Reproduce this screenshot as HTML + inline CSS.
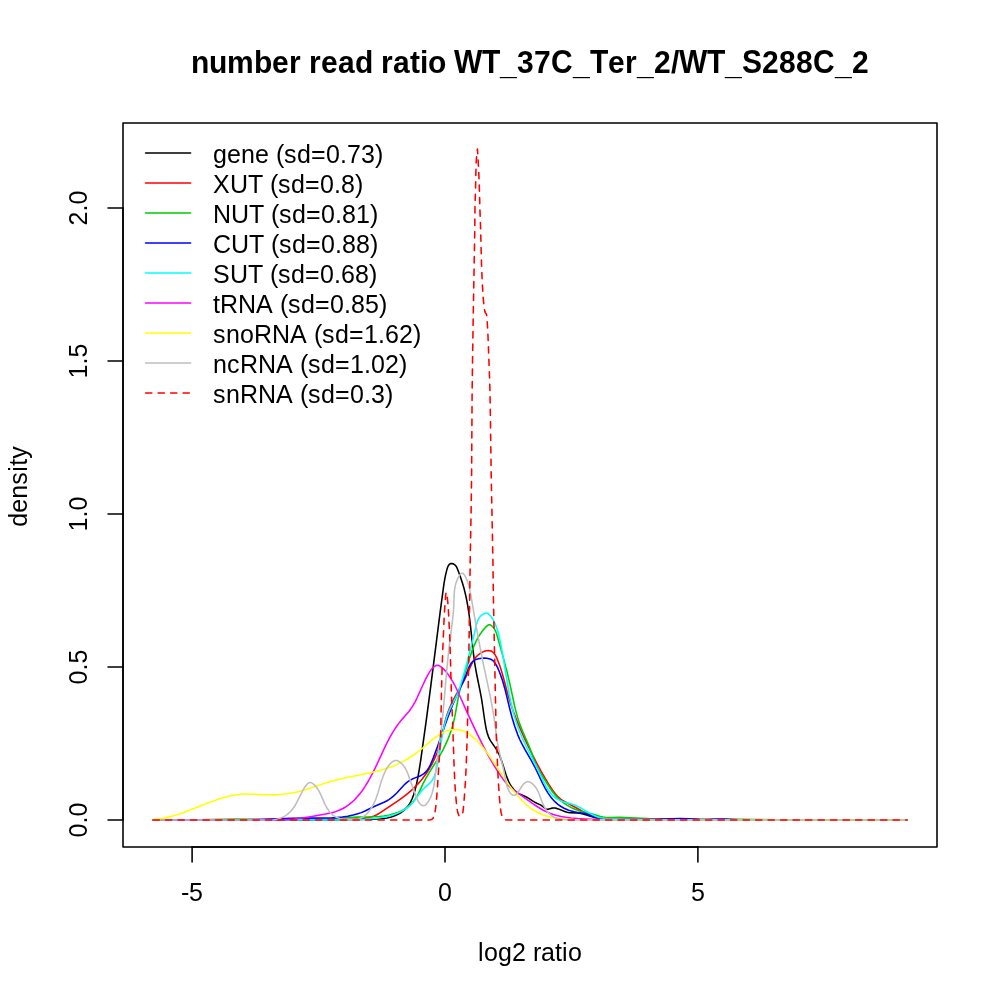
<!DOCTYPE html>
<html><head><meta charset="utf-8"><style>html,body{margin:0;padding:0;background:#fff;width:1000px;height:1000px;overflow:hidden}svg{display:block}</style></head>
<body>
<svg width="1000" height="1000" viewBox="0 0 1000 1000" style="will-change:transform">
<rect width="1000" height="1000" fill="#fff"/>
<defs><clipPath id="c"><rect x="123" y="123" width="814" height="724"/></clipPath></defs>
<g clip-path="url(#c)" fill="none" stroke-width="1.5625" stroke-linejoin="round" stroke-linecap="round">
<path d="M153 820 270.07 820 323.44 819.64 358.71 819.59 371.63 819.32 377.67 819.02 382.82 818.57 387.08 817.93 391.26 816.95 395.36 815.53 398.52 814.04 401.51 812.23 404.25 810.12 406.68 807.7 408.78 805.03 410.55 802.11 412.03 799.01 413.55 794.95 415.05 789.95 416.52 784.08 417.92 777.34 419.25 769.73 420.8 759.55 426.17 721.22 430.54 687.89 440.18 611.92 443.94 583.93 444.82 578.76 445.71 574.36 446.82 569.85 447.65 567.22 448.36 565.69 449.24 564.49 449.96 563.93 450.79 563.6 451.5 563.52 452.27 563.6 453.06 563.82 453.84 564.17 454.56 564.62 455.76 565.8 456.25 566.49 457.07 568.04 459.95 575.56 462.44 582.98 464.33 589.58 466.1 597.07 467.85 606.33 469.35 616.51 470.47 625.91 473.21 651.64 474.07 658.48 475.06 665.3 476.56 673.77 479.98 690.62 481.42 698.21 482.5 705 484.57 719.51 485.71 726.34 486.4 729.74 487.01 732.25 488.33 736.32 489.34 738.66 490.56 740.89 495.96 748.6 497.25 750.79 498.78 753.8 500.14 756.9 501.63 760.9 505.88 774.21 507.68 779.18 508.71 781.57 509.85 783.87 511.13 786.05 512.58 788.08 514.2 789.95 515.4 791.09 516.69 792.14 518.09 793.09 520.38 794.33 526.84 797.28 528.33 798.13 532.56 800.89 534.7 802.17 540.88 805.11 542.36 806.05 545.11 808.37 545.8 808.84 546.53 809.17 547.31 809.28 548.14 809.19 551.68 808.15 553.41 807.96 555.08 808.06 556.72 808.39 558.32 808.9 564.65 811.58 567.08 812.33 569.6 812.71 576.47 812.88 579.85 813.24 583.16 813.97 593.02 816.91 598.01 818.15 603.08 818.93 609.07 819.35 615.11 819.4 629.83 819.14 650.43 819.55 665.08 819.2 671.97 819.17 712.37 819.75 751.1 820 907.2 820" stroke="#000000"/>
<path d="M153 820 329.93 820 342.77 819.87 349.18 819.64 354.88 819.27 359.86 818.79 364.83 818.14 368.37 817.53 371.84 816.71 374.29 815.88 376.85 814.71 380.3 812.67 397.55 801.12 403.49 796.85 408.11 793.19 410.8 790.88 413.42 788.47 417.94 783.88 420.32 781.2 422.6 778.44 426.42 773.27 429.49 768.47 432.26 763.51 434.72 758.39 437.14 752.47 438.75 747.75 440.31 742.26 441.5 737.4 444.63 723.42 445.69 719.27 446.69 715.85 447.82 712.48 449.35 708.49 451.06 704.58 453.23 700.08 456.27 694.4 462.32 683.85 464.7 679.46 466.86 674.97 469.93 667.79 471.5 664.35 472.8 661.85 474.53 659.04 475.82 657.34 477.3 655.74 478.99 654.28 480.91 652.97 482.99 651.89 484.42 651.33 486.55 650.76 488.38 650.58 490.08 650.75 490.86 650.98 491.59 651.31 492.92 652.22 494.1 653.43 495.14 654.87 495.96 656.29 496.91 658.26 499.35 664.47 501.62 671.38 503.57 678.27 507.76 694.26 510.26 702.64 513.51 712.07 517.4 722.07 520.76 729.99 524.29 737.83 528.58 746.88 533.3 756.44 537.19 763.99 540.9 770.86 544.78 777.66 548.5 783.81 552.43 789.91 555.43 793.98 556.82 795.59 558.13 796.94 559.52 798.18 560.98 799.31 562.52 800.35 564.92 801.79 572.9 806 582.34 811.21 586.8 813.48 590.69 815.21 594 816.43 596.71 817.24 600.61 818.14 604.11 818.74 608.37 819.24 612.65 819.58 617.66 819.83 623.38 819.98 634.8 819.97 656.16 819.5 665.41 819.41 673.95 819.49 698.17 820 907.2 819.96" stroke="#FF0000"/>
<path d="M153 819.97 186.11 820 223.69 819.25 237.22 819.13 250.76 819.32 269.58 820 326.74 820 331.99 819.46 343.97 818.01 349.97 817.46 356.74 817.14 374.02 816.79 379.26 816.46 383.72 815.97 386.69 815.52 389.64 814.93 394.78 813.56 397.68 812.54 399.81 811.66 401.88 810.67 403.89 809.57 407.02 807.48 408.78 806.08 410.44 804.58 412.01 802.99 413.48 801.31 414.86 799.54 416.14 797.7 417.31 795.79 418.73 793.13 422.81 784.17 425.57 778.81 429.37 772.3 436.97 760.18 440.07 755.03 442.98 749.78 445.64 744.41 447.76 739.61 449.68 734.73 451.4 729.76 452.7 725.45 453.84 721.08 454.83 716.66 458.35 697.33 459.26 692.92 460.31 688.56 461.69 683.53 463.42 677.81 469.51 658.35 471.97 651.15 473.89 646.22 476.06 641.42 478.16 637.44 480.53 633.62 483.2 629.99 486.22 626.56 487.31 625.58 488.06 625.09 488.84 624.8 489.64 624.76 490.46 625 491.28 625.47 492.47 626.5 493.58 627.79 494.53 629.18 495.32 630.59 495.97 632.02 496.76 634.18 503.43 658.12 507.24 672.63 509.83 683.6 514.55 705.73 515.97 711.58 517.57 717.37 519.17 722.37 520.72 726.59 522.72 731.45 529 745.96 530.62 750.19 534.15 760.13 536.13 764.99 538.12 769.01 541.17 774.19 550.9 789.46 553.05 792.52 554.91 794.87 556.4 796.56 558.52 798.69 560.2 800.21 562.54 802.12 564.37 803.47 566.89 805.13 569.51 806.66 572.2 808.03 575.67 809.52 579.93 810.98 583.53 811.96 592.29 814.12 599.55 816.26 603.21 817.07 605.43 817.35 607.67 817.5 611.43 817.54 619.73 817.38 624.99 817.45 662.5 819.18 672.28 819.47 683.56 819.63 698.61 819.65 740.72 819.4 755.75 819.51 786.56 820 907.2 819.96" stroke="#00CD00"/>
<path d="M153.02 820 175.55 819.9 196.25 820 239.51 819.99 253.58 819.64 292.07 818.38 305.29 818.15 325.9 818.06 332.03 817.88 336.72 817.6 342.3 817.06 347.82 816.25 353.26 815.1 357.72 813.85 361.25 812.62 364.51 811.28 374.77 806.26 384.01 802.3 386.5 801.02 388.91 799.57 391.23 797.96 393.44 796.18 396.52 793.23 404.07 785.04 406.11 783.13 407.54 781.96 409.82 780.4 412.27 779.07 414.44 778.12 419.97 775.96 422.41 774.68 423.88 773.64 425.22 772.45 426.44 771.12 427.55 769.68 429.05 767.33 430.48 764.59 431.66 761.94 433.29 757.87 437.61 746.24 447.22 718.95 452.21 705.92 456.56 695.73 464.06 679.67 465.95 675.04 468.21 668.9 469.54 665.89 470.92 663.57 472.02 662.21 473.3 661.04 474.77 660.08 476.47 659.35 478.57 658.77 481.54 658.3 484.55 658.11 486.75 658.22 489.06 658.65 490.76 659.25 492.29 660.13 493.63 661.27 494.79 662.65 496.18 664.82 497.48 667.4 498.93 670.7 500.5 674.68 501.91 678.68 503.04 682.25 505.28 690.32 510.01 709.74 512.18 718 514.86 726.84 517.58 734.35 519.78 739.5 521.8 743.68 524.87 749.4 531.37 760.73 534.54 766.52 537.1 771.64 542.63 783.32 545.35 788.58 547.72 792.61 550.33 796.42 552.63 799.27 555.16 801.92 557.94 804.34 561 806.49 564.1 808.24 568.05 809.99 571.45 811.13 574.22 811.82 576.76 812.28 583.18 813.2 585.88 813.81 588.54 814.68 595.34 817.41 598.91 818.51 602.59 819.12 606.34 819.36 619.87 819.18 634.2 819.58 641.7 819.62 650.15 819.45 670.84 818.71 680.24 818.58 688.68 818.77 698.99 819.4 703.68 819.58 707.43 819.55 715.43 819.1 720.13 819.03 724.82 819.14 738.89 819.73 752.99 819.9 776.5 820 907.2 820" stroke="#0000FF"/>
<path d="M152.99 819.97 281.96 820 303.55 819.81 329.1 820 341.49 820 356.15 819.67 364.61 819.23 373.03 818.56 379.88 817.78 385.93 816.77 391.17 815.5 395.6 814.03 399.94 812.14 404.09 809.86 406.69 808.12 408.54 806.7 410.85 804.66 412.45 803.01 414.84 800.08 419.22 793.89 421.59 790.9 423.74 788.67 428.98 783.93 431.1 781.7 432.03 780.5 432.85 779.23 434.2 776.52 435.01 774.36 435.68 772.13 437.48 764.54 438.9 756.88 441.53 739.99 442.87 732.38 444.51 724.89 446.38 718.26 447.9 713.93 449.36 710.37 451 706.87 455.56 697.83 457.23 694.32 458.72 690.76 460.26 686.4 463.29 676.05 467.55 660.44 471.97 643.25 476.53 624.43 477.15 622.19 477.66 620.74 478.29 619.33 479.08 617.98 480.05 616.69 481.24 615.49 482.61 614.45 484.06 613.65 485.52 613.2 486.22 613.14 487.12 613.24 487.95 613.55 489.29 614.49 490.81 616.21 492.16 618.2 493.75 620.96 495.44 624.51 496.84 628.17 498 631.9 499.68 638.72 501.77 649.3 503.58 659.82 507.85 686.48 509.37 694.9 510.75 701.75 512.49 709.29 514.49 716.74 516.56 723.33 518.9 729.8 522.12 737.56 525.96 745.91 537.72 769.56 543.54 781.7 546.08 786.55 547.66 789.18 548.92 791.06 550.27 792.85 551.72 794.53 553.28 796.09 554.95 797.51 556.76 798.79 558.71 799.9 560.82 800.85 563.04 801.65 572.37 804.34 574.62 805.09 576.76 805.94 580.77 807.95 588.6 812.62 591.33 814.15 594.15 815.54 596.31 816.44 598.5 817.17 600.74 817.71 603.77 818.16 606.83 818.41 623.04 818.98 642.34 819.46 662.41 819.77 684.81 819.97 907.2 819.98" stroke="#00FFFF"/>
<path d="M152.97 819.9 161.24 820 198.77 820 226.2 819.89 246.36 820 278.45 820 285.73 819.69 293.88 819.04 301.98 818.07 311.89 816.52 325.58 814.07 331.04 812.88 335.47 811.63 339.71 810.06 342.93 808.51 346 806.71 348.91 804.67 351.68 802.42 354.31 799.98 356.81 797.36 359.77 793.88 362 790.94 364.64 787.12 368.55 780.75 372.53 773.37 376.19 765.89 385.86 745.14 389.16 738.68 392.26 733.17 395.63 727.81 398.78 723.37 401.63 719.8 408.93 711.41 410.61 709.18 412.65 706.08 414.94 702.08 416.99 698.03 423.24 684.22 425.75 678.95 428.15 674.36 430.12 671.13 431.91 668.77 433.57 667.11 434.98 666.09 435.7 665.73 436.43 665.48 437.15 665.36 437.87 665.37 438.59 665.51 440.01 666.1 441.39 667.04 443.39 668.85 445.88 671.59 448.16 674.47 450.25 677.48 452.65 681.39 455.27 686.25 457.68 691.23 468.63 715.59 474.77 728.85 479.14 737.88 483.67 746.82 489.3 757.28 494.37 766 499.31 773.77 501.92 777.57 504.11 780.53 506.43 783.36 508.28 785.37 510.23 787.25 512.28 789 515.9 791.72 532.42 803.45 537.8 807.01 543.34 810.22 548.25 812.59 550.76 813.6 553.33 814.49 556.82 815.5 561.28 816.5 565.8 817.27 571.3 817.95 577.73 818.53 585.07 819.01 592.4 819.33 600.63 819.53 612.5 819.6 647.2 819.44 657.27 819.6 669.2 820 907.2 820" stroke="#FF00FF"/>
<path d="M152.97 819.42 158.71 818.86 164.34 817.93 169.87 816.69 176.1 814.94 181.49 813.18 187.59 810.97 207.28 803.22 214.92 800.39 219.54 798.82 223.42 797.63 227.33 796.56 230.47 795.82 233.63 795.18 236.81 794.67 240 794.29 243.22 794.06 246.44 793.98 249.69 794.05 264.37 794.82 272.52 794.84 277.39 794.65 282.24 794.28 287.06 793.73 291.85 793 298.17 791.71 304.4 790.04 310.57 788.1 325.96 782.87 330.62 781.44 335.33 780.16 345.64 777.77 370.37 772.78 376.66 771.29 382.88 769.6 389.75 767.35 393.5 765.91 396.46 764.65 402.27 761.84 405.12 760.29 408.63 758.23 413.43 755.11 418.1 751.74 422.63 748.12 430.84 741.08 434.03 738.46 437.99 735.56 441.43 733.42 445.04 731.63 448.03 730.54 451.09 729.82 452.64 729.61 454.97 729.48 458.06 729.67 461.11 730.25 464.08 731.23 466.23 732.23 468.98 733.87 471.6 735.82 474.71 738.54 478.21 742.06 480.42 744.5 483.06 747.63 488.02 754.11 492.2 760.13 504.32 778.32 508.04 783.61 511.42 788.16 514.96 792.63 518.69 797 522.06 800.59 525.6 803.98 528.69 806.61 531.91 809.03 535.28 811.19 538.08 812.72 540.99 814.05 544.75 815.44 548.63 816.57 552.6 817.46 559.07 818.49 567.23 819.29 575.36 819.72 585.92 819.92 907.19 820" stroke="#FFFF00"/>
<path d="M152.99 819.97 270.2 820 273.93 819.73 277.61 819.06 279.42 818.55 281.21 817.88 282.96 817.08 284.66 816.15 286.3 815.1 287.85 813.96 289.31 812.72 291.29 810.71 293.56 807.82 295.52 804.71 297.28 801.43 301.55 792.78 302.99 790.15 304.59 787.53 306.39 784.98 307.71 783.56 308.4 783.02 309.12 782.63 309.85 782.43 310.6 782.44 311.36 782.66 312.89 783.56 315.04 785.57 316.87 787.81 318.43 790.17 319.77 792.63 320.97 795.17 324.79 803.92 327.1 808.23 328.71 810.66 329.89 812.17 331.81 814.22 333.21 815.41 335.5 816.88 337.15 817.62 339.8 818.41 342.61 818.91 347.49 819.43 351.44 819.6 355.3 819.4 358.07 818.92 359.83 818.39 361.5 817.69 363.09 816.82 365.31 815.22 366.69 813.98 368.62 811.9 369.8 810.38 371.44 807.96 372.44 806.27 373.81 803.65 375.03 800.97 376.11 798.28 377.94 792.89 380.82 783.08 382.22 778.67 383.85 774.31 385.42 770.86 386.82 768.32 387.9 766.66 389.12 765.03 390.5 763.46 392.01 762.09 392.8 761.51 394.43 760.71 395.27 760.51 396.11 760.47 396.95 760.6 397.78 760.86 398.6 761.25 400.19 762.3 401.65 763.59 402.96 765.01 404.13 766.52 405.65 768.95 406.95 771.53 408.07 774.19 411.49 783.97 416.98 798.67 418.14 801.22 419.2 802.92 420.48 804.34 421.22 804.91 422.01 805.36 422.82 805.65 423.61 805.74 424.37 805.6 425.07 805.26 425.73 804.76 426.95 803.42 428.54 801.09 429.89 798.65 431.04 796.12 431.99 793.5 432.78 790.82 433.43 788.08 434.11 784.35 434.76 779.6 436.48 764.3 440.44 736.26 442.3 720.38 443.65 706.31 446.47 673.32 447.9 658.21 449.15 646.87 451.94 625.19 453.09 614.9 453.73 606.56 454.14 594.64 454.53 590 454.97 587.18 455.64 584.31 456.23 582.36 457.22 579.73 458.49 577.04 459.79 574.92 460.98 573.62 461.78 573.19 462.57 573.21 463.34 573.66 464.44 574.97 465.45 576.78 466.65 579.42 467.66 582.03 468.59 584.9 469.58 588.64 470.67 594.15 476.34 627.31 480.14 647.82 483.47 664.58 489.79 694.12 492.15 706.12 493.99 717.3 497.04 739.85 497.8 744.51 498.69 749.12 499.93 754.61 503.32 768.28 504.1 771.98 505.64 780.45 506.76 785.1 508.03 788.71 509.29 791.33 510.3 792.97 510.87 793.69 511.47 794.32 512.11 794.81 512.78 795.15 513.5 795.3 514.26 795.24 515.04 794.98 515.81 794.56 516.54 794.01 517.21 793.37 518.44 791.85 521.72 786.5 522.9 784.82 524.23 783.39 524.97 782.8 525.75 782.32 526.56 781.97 527.39 781.78 528.24 781.74 529.09 781.89 529.93 782.18 531.57 783.13 532.35 783.73 533.78 785.08 535.04 786.51 536.62 788.81 537.52 790.42 538.7 792.94 542.05 801.83 543.63 805.41 545.03 808.01 546.07 809.66 547.79 811.98 549.05 813.39 550.39 814.65 551.82 815.76 553.34 816.71 555.76 817.84 557.45 818.43 560.1 819.09 562.86 819.52 565.7 819.78 570.55 819.93 626.57 820 907.21 819.99" stroke="#BEBEBE"/>
<path d="M153 820 428 820 429 819.95 430.5 819.72 432 819.3 432.5 818.97 433 818.35 433.5 817.47 434.5 815 435 812.73 436 805 436.9 794.89 437.8 782.2 440.3 741.79 440.7 733 441.5 690 441.95 672.94 442.75 650.04 444.03 620.3 444.5 611.7 445.35 598.79 445.77 594.13 446.2 592.3 446.6 593.16 447 595.42 447.8 602.2 448.27 608.29 449.6 633.79 450 643 451.4 694 452.6 722 454 763.2 454.93 784.18 455.4 791.7 456.36 802.69 456.84 807.06 457.32 810.42 457.8 812.6 458.75 815.25 459.23 816.09 459.7 816.4 460.17 816.32 460.63 816.07 461.1 815.66 461.57 815.11 462.5 813.6 462.98 811.46 463.45 807.36 464.4 796.5 465.4 782.07 465.9 772.7 466.35 761.83 467.4 730 469 645 470.3 555 471.17 507.79 471.6 475 472.1 395 472.55 359.62 473.4 305.52 474.7 235 475 205 475.5 190 475.8 175 476.2 162 476.6 155.89 477 152 477.5 149 478.8 173 479.3 186 480 212 480.5 225 481.5 264 482.35 284.35 483.2 298 484.05 306.55 484.47 309.62 484.9 311.6 485.32 312.6 486.18 313.85 486.6 315 487 318.43 487.8 332 488.3 343.61 489.6 379.15 490 393.4 490.4 416.77 491.2 475 492.9 560 493.4 597.5 495.82 716.47 496.3 735 496.75 747.86 498.13 777.94 499.4 797.53 500.2 805.82 501 812.12 501.4 814 501.88 815.46 502.84 817.64 503.32 818.35 504.26 819.09 505.63 819.75 507 820 907.2 820" stroke="#FF0000" stroke-dasharray="6.25 6.25"/>
</g>
<g stroke="#000" stroke-width="1.5625" fill="none" stroke-linecap="round">
<rect x="123" y="123" width="814" height="724" stroke-linejoin="round"/>
<path d="M192.10 847 L697.90 847"/>
<path d="M192.10 847 L192.10 862"/>
<path d="M445.00 847 L445.00 862"/>
<path d="M697.90 847 L697.90 862"/>
<path d="M123 820.00 L123 208.00"/>
<path d="M123 820.00 L108 820.00"/>
<path d="M123 667.00 L108 667.00"/>
<path d="M123 514.00 L108 514.00"/>
<path d="M123 361.00 L108 361.00"/>
<path d="M123 208.00 L108 208.00"/>
</g>
<g fill="#000">
<text transform="translate(191 72.8) scale(1 1.09)" x="263 291 360 399 488 516 551 622" y="0 0 0 0 0 0 0 0" font-family="Liberation Sans, sans-serif" font-size="30" font-weight="bold">WTCTWTSC</text><text transform="translate(191 72.8) scale(1 1.05)" x="326 343 463 571 588 605 661" y="0 0 0 0 0 0 0" font-family="Liberation Sans, sans-serif" font-size="30" font-weight="bold">3722882</text><text transform="translate(191 72.8) scale(1 1.04)" x="0 18 36 63 81 98 118 130 147 164 190 202 219 229 237 309 382 417 434 446 480 534 644" y="0 0 0 0 0 0 0 0 0 0 0 0 0 0 0 1.4 1.4 0 0 1.4 0 1.4 1.4" font-family="Liberation Sans, sans-serif" font-size="30" font-weight="bold">numberreadratio__er_/__</text>
<text transform="translate(181.1 900.8) scale(1 1)" x="8" y="0" font-family="Liberation Sans, sans-serif" font-size="25">5</text><text transform="translate(181.1 900.8) scale(1 1)" x="0" y="0" font-family="Liberation Sans, sans-serif" font-size="25">-</text>
<text transform="translate(438 900.8) scale(1 1)" x="0" y="0" font-family="Liberation Sans, sans-serif" font-size="25">0</text>
<text transform="translate(690.9 900.8) scale(1 1)" x="0" y="0" font-family="Liberation Sans, sans-serif" font-size="25">5</text>
<text transform="translate(86.8 820) rotate(-90) translate(-17.5 0) scale(1 1)" x="0 21" y="0 0" font-family="Liberation Sans, sans-serif" font-size="25">00</text><text transform="translate(86.8 820) rotate(-90) translate(-17.5 0) scale(1 1)" x="14" y="0" font-family="Liberation Sans, sans-serif" font-size="25">.</text>
<text transform="translate(86.8 667) rotate(-90) translate(-17.5 0) scale(1 1)" x="0 21" y="0 0" font-family="Liberation Sans, sans-serif" font-size="25">05</text><text transform="translate(86.8 667) rotate(-90) translate(-17.5 0) scale(1 1)" x="14" y="0" font-family="Liberation Sans, sans-serif" font-size="25">.</text>
<text transform="translate(86.8 514) rotate(-90) translate(-17.5 0) scale(1 1)" x="0 21" y="0 0" font-family="Liberation Sans, sans-serif" font-size="25">10</text><text transform="translate(86.8 514) rotate(-90) translate(-17.5 0) scale(1 1)" x="14" y="0" font-family="Liberation Sans, sans-serif" font-size="25">.</text>
<text transform="translate(86.8 361) rotate(-90) translate(-17.5 0) scale(1 1)" x="0 21" y="0 0" font-family="Liberation Sans, sans-serif" font-size="25">15</text><text transform="translate(86.8 361) rotate(-90) translate(-17.5 0) scale(1 1)" x="14" y="0" font-family="Liberation Sans, sans-serif" font-size="25">.</text>
<text transform="translate(86.8 208) rotate(-90) translate(-17.5 0) scale(1 1)" x="0 21" y="0 0" font-family="Liberation Sans, sans-serif" font-size="25">20</text><text transform="translate(86.8 208) rotate(-90) translate(-17.5 0) scale(1 1)" x="14" y="0" font-family="Liberation Sans, sans-serif" font-size="25">.</text>
<text transform="translate(478 960.8) scale(1 1)" x="34" y="0" font-family="Liberation Sans, sans-serif" font-size="25">2</text><text transform="translate(478 960.8) scale(1 1)" x="0 6 20 55 63 77 84 90" y="0 0 0 0 0 0 0 0" font-family="Liberation Sans, sans-serif" font-size="25">logratio</text>
<text transform="translate(26.7 486.3) rotate(-90) translate(-40.5 0) scale(1 1)" x="0 14 28 42 55 61 68" y="0 0 0 0 0 0 0" font-family="Liberation Sans, sans-serif" font-size="25">density</text>
</g>
<g fill="none" stroke-width="1.5625" stroke-linecap="round">
<path d="M145.6 153 L190.6 153" stroke="#000000"/>
<path d="M145.6 183 L190.6 183" stroke="#FF0000"/>
<path d="M145.6 213 L190.6 213" stroke="#00CD00"/>
<path d="M145.6 243 L190.6 243" stroke="#0000FF"/>
<path d="M145.6 273 L190.6 273" stroke="#00FFFF"/>
<path d="M145.6 303 L190.6 303" stroke="#FF00FF"/>
<path d="M145.6 333 L190.6 333" stroke="#FFFF00"/>
<path d="M145.6 363 L190.6 363" stroke="#BEBEBE"/>
<path d="M145.6 393 L190.6 393" stroke="#FF0000" stroke-dasharray="6.25 6.25"/>
</g>
<g fill="#000">
<text transform="translate(213 162.8) scale(1 1)" x="113 134 148" y="0 0 0" font-family="Liberation Sans, sans-serif" font-size="25">073</text><text transform="translate(213 162.8) scale(1 1)" x="0 14 28 42 63 71 84 98 127 162" y="0 0 0 0 0 0 0 0 0 0" font-family="Liberation Sans, sans-serif" font-size="25">gene(sd=.)</text>
<text transform="translate(213 192.8) scale(1 1.05)" x="0 17 35" y="0 0 0" font-family="Liberation Sans, sans-serif" font-size="25">XUT</text><text transform="translate(213 192.8) scale(1 1)" x="107 128" y="0 0" font-family="Liberation Sans, sans-serif" font-size="25">08</text><text transform="translate(213 192.8) scale(1 1)" x="57 65 78 92 121 142" y="0 0 0 0 0 0" font-family="Liberation Sans, sans-serif" font-size="25">(sd=.)</text>
<text transform="translate(213 222.8) scale(1 1.05)" x="0 18 36" y="0 0 0" font-family="Liberation Sans, sans-serif" font-size="25">NUT</text><text transform="translate(213 222.8) scale(1 1)" x="108 129 143" y="0 0 0" font-family="Liberation Sans, sans-serif" font-size="25">081</text><text transform="translate(213 222.8) scale(1 1)" x="58 66 79 93 122 157" y="0 0 0 0 0 0" font-family="Liberation Sans, sans-serif" font-size="25">(sd=.)</text>
<text transform="translate(213 252.8) scale(1 1.05)" x="0 18 36" y="0 0 0" font-family="Liberation Sans, sans-serif" font-size="25">CUT</text><text transform="translate(213 252.8) scale(1 1)" x="108 129 143" y="0 0 0" font-family="Liberation Sans, sans-serif" font-size="25">088</text><text transform="translate(213 252.8) scale(1 1)" x="58 66 79 93 122 157" y="0 0 0 0 0 0" font-family="Liberation Sans, sans-serif" font-size="25">(sd=.)</text>
<text transform="translate(213 282.8) scale(1 1.05)" x="0 17 35" y="0 0 0" font-family="Liberation Sans, sans-serif" font-size="25">SUT</text><text transform="translate(213 282.8) scale(1 1)" x="107 128 142" y="0 0 0" font-family="Liberation Sans, sans-serif" font-size="25">068</text><text transform="translate(213 282.8) scale(1 1)" x="57 65 78 92 121 156" y="0 0 0 0 0 0" font-family="Liberation Sans, sans-serif" font-size="25">(sd=.)</text>
<text transform="translate(213 312.8) scale(1 1.05)" x="7 25 43" y="0 0 0" font-family="Liberation Sans, sans-serif" font-size="25">RNA</text><text transform="translate(213 312.8) scale(1 1)" x="117 138 152" y="0 0 0" font-family="Liberation Sans, sans-serif" font-size="25">085</text><text transform="translate(213 312.8) scale(1 1)" x="0 67 75 88 102 131 166" y="0 0 0 0 0 0 0" font-family="Liberation Sans, sans-serif" font-size="25">t(sd=.)</text>
<text transform="translate(213 342.8) scale(1 1.05)" x="41 59 77" y="0 0 0" font-family="Liberation Sans, sans-serif" font-size="25">RNA</text><text transform="translate(213 342.8) scale(1 1)" x="151 172 186" y="0 0 0" font-family="Liberation Sans, sans-serif" font-size="25">162</text><text transform="translate(213 342.8) scale(1 1)" x="0 13 27 101 109 122 136 165 200" y="0 0 0 0 0 0 0 0 0" font-family="Liberation Sans, sans-serif" font-size="25">sno(sd=.)</text>
<text transform="translate(213 372.8) scale(1 1.05)" x="27 45 63" y="0 0 0" font-family="Liberation Sans, sans-serif" font-size="25">RNA</text><text transform="translate(213 372.8) scale(1 1)" x="137 158 172" y="0 0 0" font-family="Liberation Sans, sans-serif" font-size="25">102</text><text transform="translate(213 372.8) scale(1 1)" x="0 14 87 95 108 122 151 186" y="0 0 0 0 0 0 0 0" font-family="Liberation Sans, sans-serif" font-size="25">nc(sd=.)</text>
<text transform="translate(213 402.8) scale(1 1.05)" x="27 45 63" y="0 0 0" font-family="Liberation Sans, sans-serif" font-size="25">RNA</text><text transform="translate(213 402.8) scale(1 1)" x="137 158" y="0 0" font-family="Liberation Sans, sans-serif" font-size="25">03</text><text transform="translate(213 402.8) scale(1 1)" x="0 13 87 95 108 122 151 172" y="0 0 0 0 0 0 0 0" font-family="Liberation Sans, sans-serif" font-size="25">sn(sd=.)</text>
</g>
</svg>
</body></html>
